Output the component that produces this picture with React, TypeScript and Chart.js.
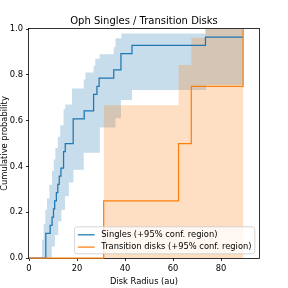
import React, { useEffect, useRef } from "react";
import { Chart, registerables } from "chart.js";

Chart.register(...registerables);

const TITLE = "Oph Singles / Transition Disks";
const X_LABEL = "Disk Radius (au)";
const Y_LABEL = "Cumulative probability";
const SINGLES_LABEL = "Singles (+95% conf. region)";
const TRANS_LABEL = "Transition disks (+95% conf. region)";

const X_TICKS = [0, 20, 40, 60, 80];
const Y_TICKS = [0, 0.2, 0.4, 0.6, 0.8, 1.0];
const X_MIN = 0;
const X_MAX = 95.8;

// Singles: empirical CDF (radius where the step occurs, value after the step)
const singlesR = [0, 7.0, 8.8, 9.6, 10.2, 10.7, 11.4, 12.0, 12.6, 13.3, 14.4, 15.1, 18.4, 23.0, 26.9, 28.3, 29.2, 35.3, 38.3, 42.9, 73.5, 89.2];
const singlesCdf = [0, 0.107, 0.143, 0.179, 0.214, 0.25, 0.286, 0.321, 0.357, 0.393, 0.464, 0.5, 0.607, 0.643, 0.714, 0.75, 0.786, 0.821, 0.893, 0.929, 0.964, 0.964];

// Singles 95% region
const singlesUpR = [5.4, 6.1, 6.8, 7.5, 8.5, 9.6, 10.3, 11.0, 12.0, 13.0, 14.4, 15.1, 17.9, 22.8, 23.5, 26.9, 27.6, 29.4, 35.3, 36.0, 38.5, 73.5, 89.3];
const singlesUp = [0.08, 0.15, 0.21, 0.26, 0.32, 0.38, 0.43, 0.48, 0.53, 0.58, 0.65, 0.67, 0.74, 0.78, 0.81, 0.84, 0.87, 0.89, 0.92, 0.96, 0.98, 1.0, 1.0];
const singlesLoR = [5.4, 9.5, 10.8, 12.2, 13.5, 15.0, 16.6, 18.5, 22.8, 29.5, 36.0, 38.3, 42.9, 73.8, 89.3];
const singlesLo = [0, 0.05, 0.1, 0.16, 0.21, 0.27, 0.33, 0.385, 0.46, 0.57, 0.61, 0.69, 0.734, 0.756, 0.756];

// Transition disks: empirical CDF
const transR = [0, 31.1, 62.3, 67.6, 89.2];
const transCdf = [0, 0.25, 0.5, 0.75, 1.0];

// Transition disks 95% region
const transUpR = [31.1, 62.3, 67.6, 73.5, 89.3];
const transUp = [0.667, 0.843, 0.962, 1.0, 1.0];
const transLoR = [31.1, 89.3];
const transLo = [0, 0];

const BLUE = "#1f77b4";
const ORANGE = "#ff7f0e";
const BLUE_FILL = "rgba(31,119,180,0.25)";
const ORANGE_FILL = "rgba(255,127,14,0.25)";
const FONT = "'DejaVu Sans', sans-serif";
const FS = 8.33;

function stepAt(xs: number[], ys: number[], x: number) {
  let v = ys[0];
  for (let i = 0; i < xs.length; i++) if (xs[i] <= x + 1e-9) v = ys[i];
  return v;
}

function band(upX: number[], upY: number[], loX: number[], loY: number[]) {
  const xs = Array.from(new Set([...upX, ...loX])).sort((a, b) => a - b);
  return {
    upper: xs.map((x) => ({ x, y: stepAt(upX, upY, x) })),
    lower: xs.map((x) => ({ x, y: stepAt(loX, loY, x) })),
  };
}

function pts(xs: number[], ys: number[]) {
  return xs.map((x, i) => ({ x, y: ys[i] }));
}

const decor = {
  id: "decor",
  beforeDatasetsDraw(chart: any) {
    const { ctx, chartArea: a } = chart;
    ctx.save();
    ctx.strokeStyle = "#000";
    ctx.lineWidth = 0.8;
    ctx.strokeRect(a.left - 0.5, a.top - 0.5, a.right - a.left + 1, a.bottom - a.top + 1);
    ctx.restore();
  },
  afterDraw(chart: any) {
    const { ctx, chartArea: a } = chart;
    ctx.save();
    ctx.fillStyle = "#000";
    // title
    ctx.font = `10px ${FONT}`;
    ctx.textAlign = "center";
    ctx.textBaseline = "alphabetic";
    ctx.fillText(TITLE, (a.left + a.right) / 2, a.top - 5);
    // x label
    ctx.font = `${FS}px ${FONT}`;
    ctx.textBaseline = "middle";
    ctx.fillText(X_LABEL, (a.left + a.right) / 2, 282);
    // y label
    ctx.save();
    ctx.translate(5, (a.top + a.bottom) / 2);
    ctx.rotate(-Math.PI / 2);
    ctx.fillText(Y_LABEL, 0, 0);
    ctx.restore();

    // legend
    const items = [
      { label: SINGLES_LABEL, color: BLUE },
      { label: TRANS_LABEL, color: ORANGE },
    ];
    ctx.font = `${FS}px ${FONT}`;
    const tw = Math.max(...items.map((it) => ctx.measureText(it.label).width));
    const right = a.right - 4.2;
    const bottom = a.bottom - 4.2;
    const h = 27;
    const w = 3.3 + 16.7 + 6.7 + tw + 3.3;
    const left = right - w;
    const top = bottom - h;
    ctx.beginPath();
    const r = 2.5;
    ctx.moveTo(left + r, top);
    ctx.lineTo(right - r, top);
    ctx.quadraticCurveTo(right, top, right, top + r);
    ctx.lineTo(right, bottom - r);
    ctx.quadraticCurveTo(right, bottom, right - r, bottom);
    ctx.lineTo(left + r, bottom);
    ctx.quadraticCurveTo(left, bottom, left, bottom - r);
    ctx.lineTo(left, top + r);
    ctx.quadraticCurveTo(left, top, left + r, top);
    ctx.closePath();
    ctx.fillStyle = "rgba(255,255,255,0.8)";
    ctx.fill();
    ctx.strokeStyle = "#cccccc";
    ctx.lineWidth = 0.8;
    ctx.stroke();
    items.forEach((it, i) => {
      const cy = top + 8 + i * 12.3;
      ctx.beginPath();
      ctx.strokeStyle = it.color;
      ctx.lineWidth = 1.25;
      ctx.moveTo(left + 3.3, cy);
      ctx.lineTo(left + 3.3 + 16.7, cy);
      ctx.stroke();
      ctx.fillStyle = "#000";
      ctx.textAlign = "left";
      ctx.textBaseline = "middle";
      ctx.fillText(it.label, left + 3.3 + 16.7 + 6.7, cy);
    });
    ctx.restore();
  },
};

export default function App() {
  const ref = useRef<HTMLCanvasElement | null>(null);
  useEffect(() => {
    if (!ref.current) return;
    const sb = band(singlesUpR, singlesUp, singlesLoR, singlesLo);
    const tb = band(transUpR, transUp, transLoR, transLo);
    const bandDs = (data: any, fill: any, bg: string, order: number) => ({
      data,
      stepped: true,
      borderWidth: 0,
      borderColor: "rgba(0,0,0,0)",
      backgroundColor: bg,
      pointRadius: 0,
      fill,
      order,
      clip: 3,
    });
    const chart = new Chart(ref.current, {
      type: "line",
      data: {
        datasets: [
          bandDs(sb.upper, "+1", BLUE_FILL, 6),
          bandDs(sb.lower, false, BLUE_FILL, 5),
          bandDs(tb.upper, "+1", ORANGE_FILL, 4),
          bandDs(tb.lower, false, ORANGE_FILL, 3),
          {
            label: SINGLES_LABEL,
            data: pts(singlesR, singlesCdf),
            stepped: true,
            borderColor: BLUE,
            borderWidth: 1.25,
            pointRadius: 0,
            fill: false,
            order: 2,
            clip: 3,
          },
          {
            label: TRANS_LABEL,
            data: pts(transR, transCdf),
            stepped: true,
            borderColor: ORANGE,
            borderWidth: 1.25,
            pointRadius: 0,
            fill: false,
            order: 1,
            clip: 3,
          },
        ],
      },
      options: {
        animation: false,
        responsive: false,
        devicePixelRatio: 1,
        layout: { padding: { left: 0, top: 29, right: 29, bottom: 0 } },
        plugins: {
          legend: { display: false },
          title: { display: false },
          tooltip: { enabled: false },
        },
        scales: {
          x: {
            type: "linear",
            min: X_MIN,
            max: X_MAX,
            afterBuildTicks: (s: any) => {
              s.ticks = X_TICKS.map((v) => ({ value: v }));
            },
            afterFit: (s: any) => {
              s.height = 30;
            },
            grid: { drawOnChartArea: false, drawTicks: true, tickLength: 3, color: "#000", lineWidth: 0.8 },
            border: { display: false },
            ticks: {
              padding: 3,
              maxRotation: 0,
              autoSkip: false,
              color: "#000",
              font: { family: FONT, size: FS },
              callback: (v: any) => String(v),
            },
          },
          y: {
            type: "linear",
            min: 0,
            max: 1,
            afterBuildTicks: (s: any) => {
              s.ticks = Y_TICKS.map((v) => ({ value: v }));
            },
            afterFit: (s: any) => {
              s.width = 29;
            },
            grid: { drawOnChartArea: false, drawTicks: true, tickLength: 3, color: "#000", lineWidth: 0.8 },
            border: { display: false },
            ticks: {
              padding: 3,
              autoSkip: false,
              color: "#000",
              font: { family: FONT, size: FS },
              callback: (v: any) => Number(v).toFixed(1),
            },
          },
        },
      },
      plugins: [decor],
    } as any);
    return () => chart.destroy();
  }, []);
  return (
    <div style={{ position: "fixed", left: 0, top: 0, width: 288, height: 288, background: "#fff" }}>
      <canvas ref={ref} width={288} height={288} style={{ display: "block", width: 288, height: 288 }} />
    </div>
  );
}
